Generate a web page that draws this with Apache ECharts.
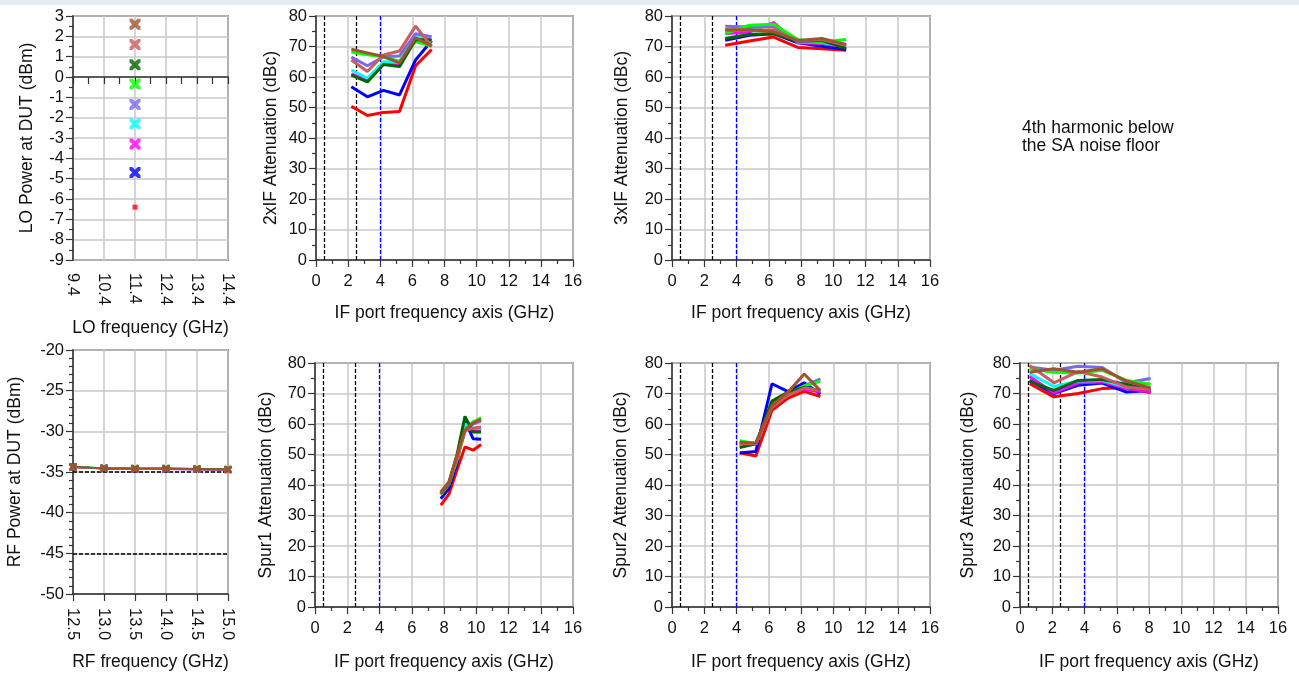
<!DOCTYPE html>
<html><head><meta charset="utf-8">
<script src="https://cdn.jsdelivr.net/npm/echarts@6/dist/echarts.min.js"></script>
<style>
html,body{margin:0;padding:0;background:#fff;}
#c{position:absolute;left:0;top:0;width:1299px;height:673px;}
#band{position:absolute;left:0;top:0;width:1299px;height:5px;background:#e2eef3;}
</style>
</head><body>
<div id="c"></div><div id="band"></div>
<script>
// ---------- data ----------
const colors = ['#ff0000','#0000ff','#ff00ff','#00ffff','#7b68ee','#00ff00','#006400','#cd5c5c','#a0522d'];
const loPower = [-6.4,-4.7,-3.3,-2.3,-1.35,-0.35,0.6,1.6,2.6];
const loFreq = '11.4';
const loTicks = ['9.4','9.9','10.4','10.9','11.4','11.9','12.4','12.9','13.4','13.9','14.4'];

const rfFreq = [12.5,13.0,13.5,14.0,14.5,15.0];
const rfPower = [
  [-34.45,-34.6,-34.65,-34.65,-34.7,-34.75],
  [-34.4,-34.6,-34.6,-34.65,-34.7,-34.7],
  [-34.4,-34.55,-34.6,-34.6,-34.7,-34.7],
  [-34.4,-34.55,-34.6,-34.6,-34.65,-34.7],
  [-34.4,-34.55,-34.6,-34.6,-34.65,-34.7],
  [-34.35,-34.5,-34.55,-34.55,-34.6,-34.65],
  [-34.35,-34.5,-34.55,-34.55,-34.6,-34.65],
  [-34.4,-34.55,-34.6,-34.6,-34.65,-34.7],
  [-34.4,-34.55,-34.6,-34.6,-34.65,-34.7]
];
const rfLimits = [-35,-45];

const if2x = [2.2,3.2,4.2,5.2,6.2,7.2];
const att2x = [
  [50.4,47.4,48.4,48.7,63.7,69.0],
  [56.8,53.5,55.6,54.1,65.6,71.9],
  [61.0,59.0,64.2,63.9,73.7,72.0],
  [62.3,59.6,65.0,65.0,73.8,71.6],
  [66.5,63.7,66.6,66.9,74.2,73.2],
  [68.2,67.3,66.6,65.2,71.6,70.1],
  [60.6,58.4,64.1,63.4,72.3,72.1],
  [65.6,61.8,67.2,68.5,76.7,70.0],
  [69.1,67.9,66.7,64.6,72.8,70.2]
];

const if3x = [3.3,4.8,6.3,7.8,9.3,10.8];
const att3x = [
  [70.4,71.8,73.1,69.7,69.3,68.8],
  [72.0,73.7,74.2,71.2,70.1,69.0],
  [74.2,74.8,77.8,71.2,71.0,69.9],
  [75.3,75.9,77.0,71.5,71.2,70.1],
  [76.6,76.4,76.6,71.5,71.5,70.2],
  [74.2,77.0,77.3,72.3,71.5,72.3],
  [72.6,74.0,74.2,71.8,72.0,69.3],
  [75.3,75.3,75.5,71.8,72.3,70.4],
  [75.5,75.5,74.8,72.0,72.6,70.7]
];

const spur1F = [7.8,8.3,8.8,9.3,9.8,10.3];
const spur1 = [
  [33.4,36.9,44.8,52.5,51.4,53.3],
  [35.5,38.8,47.0,61.2,55.2,55.0],
  [36.9,40.2,49.2,58.8,58.3,57.9],
  [37.2,40.4,49.0,60.0,58.6,58.6],
  [37.4,40.7,48.6,57.4,60.0,61.0],
  [36.9,40.2,48.1,58.0,60.7,62.0],
  [37.2,40.4,49.7,62.5,57.4,57.4],
  [37.4,40.7,48.6,57.9,58.6,59.0],
  [37.7,41.0,49.7,58.0,60.3,61.5]
];

const spur2F = [4.2,5.2,6.2,7.2,8.2,9.2];
const spur2 = [
  [50.6,49.5,64.5,68.5,70.7,69.0],
  [50.5,51.0,73.2,70.6,73.5,69.8],
  [52.8,53.4,65.8,69.8,71.5,70.5],
  [53.0,53.5,66.0,70.0,72.0,71.0],
  [53.8,53.6,66.0,70.0,72.5,74.8],
  [54.5,53.5,66.5,70.0,72.5,74.0],
  [52.3,53.5,67.5,70.5,72.0,71.0],
  [53.5,53.5,65.5,69.5,71.8,71.0],
  [54.0,53.8,66.0,70.5,76.4,71.0]
];

const spur3F = [0.6,2.1,3.6,5.1,6.6,8.1];
const spur3 = [
  [73.2,68.9,70.0,71.6,71.9,70.2],
  [74.3,70.0,72.7,73.4,70.5,71.0],
  [75.6,70.2,73.5,73.8,71.6,70.5],
  [76.5,72.3,74.1,74.3,72.1,71.6],
  [78.7,77.6,78.9,78.5,73.5,74.9],
  [78.1,77.0,76.7,77.6,74.3,73.0],
  [74.0,71.0,74.3,74.6,73.0,71.3],
  [79.2,73.5,77.2,75.4,72.1,71.3],
  [77.0,78.1,77.0,78.1,74.1,71.8]
];

const refLines = [0.5, 2.5, 4.0];
const refColors = ['#000000','#000000','#0000ff'];
const harmonicNote = '4th harmonic below\nthe SA noise floor';

// ---------- styling helpers ----------
const FF = '"Liberation Sans", Arial, sans-serif';
const TXT = '#111';
const AX = '#333';
const GRIDC = '#c9c9c9';
const labelStyle = {fontSize:16.5, color:TXT, fontFamily:FF};
const nameStyle = {fontSize:17.5, color:TXT, fontFamily:FF};

function grid(l,t,w,h){return {left:l,top:t,width:w,height:h,show:true,borderColor:'#444',borderWidth:1.5,backgroundColor:'transparent'};}

function valAxis(gi, min, max, interval, minorSplit, name, gap, margin, extra){
  return Object.assign({
    type:'value', gridIndex:gi, min:min, max:max, interval:interval,
    name:name, nameLocation:'middle', nameGap:gap, nameTextStyle:nameStyle,
    axisLine:{show:true,lineStyle:{color:AX,width:1.5}},
    axisTick:{show:true,inside:false,length:7,lineStyle:{color:AX,width:1.2}},
    minorTick:{show:minorSplit>0,splitNumber:minorSplit||1,length:4,lineStyle:{color:AX,width:1.2}},
    axisLabel:Object.assign({margin:margin},labelStyle),
    splitLine:{show:true,lineStyle:{color:GRIDC,width:1.5}},
    minorSplitLine:{show:false}
  }, extra||{});
}

const grids = [
  grid(73,16,155,244),    // 0 LO
  grid(316,16,257,244),   // 1 2xIF
  grid(672,16,258,244),   // 2 3xIF
  grid(73,350,155,244),   // 3 RF
  grid(315,363,258,244),  // 4 spur1
  grid(672,363,258,244),  // 5 spur2
  grid(1020,363,258,244)  // 6 spur3
];

const xAxes = [
  {type:'category', gridIndex:0, data:loTicks, boundaryGap:false,
   name:'LO frequency (GHz)', nameLocation:'middle', nameGap:59, nameTextStyle:nameStyle,
   axisLine:{show:true,lineStyle:{color:AX,width:1.5}},
   axisTick:{show:true,interval:0,length:7,lineStyle:{color:AX,width:1.2}},
   axisLabel:Object.assign({interval:1,rotate:-90,margin:13},labelStyle),
   splitLine:{show:true,interval:1,lineStyle:{color:GRIDC,width:1.5}}},
  valAxis(1,0,16,2,2,'IF port frequency axis (GHz)',44,13),
  valAxis(2,0,16,2,2,'IF port frequency axis (GHz)',44,13),
  valAxis(3,12.5,15,0.5,0,'RF frequency (GHz)',59,14,{axisLabel:Object.assign({margin:14,rotate:-90,formatter:v=>v.toFixed(1)},labelStyle)}),
  valAxis(4,0,16,2,2,'IF port frequency axis (GHz)',46,13),
  valAxis(5,0,16,2,2,'IF port frequency axis (GHz)',46,13),
  valAxis(6,0,16,2,2,'IF port frequency axis (GHz)',46,13)
];
const yAxes = [
  valAxis(0,-9,3,1,2,'LO Power at DUT (dBm)',37,9),
  valAxis(1,0,80,10,2,'2xIF Attenuation (dBc)',36,9),
  valAxis(2,0,80,10,2,'3xIF Attenuation (dBc)',41,9),
  valAxis(3,-50,-20,5,5,'RF Power at DUT (dBm)',49,9),
  valAxis(4,0,80,10,2,'Spur1 Attenuation (dBc)',40,9),
  valAxis(5,0,80,10,2,'Spur2 Attenuation (dBc)',42,9),
  valAxis(6,0,80,10,2,'Spur3 Attenuation (dBc)',43,9)
];

const XMARK = 'path://M0,0 L2.6,0 L5,2.4 L7.4,0 L10,0 L10,2.6 L7.6,5 L10,7.4 L10,10 L7.4,10 L5,7.6 L2.6,10 L0,10 L0,7.4 L2.4,5 L0,2.6 Z';

const series = [];
// LO panel
loPower.forEach((p,i)=>{
  series.push({type:'scatter', xAxisIndex:0, yAxisIndex:0, data:[[loFreq,p]],
    symbol: i===0 ? 'rect' : XMARK, symbolSize: i===0 ? 5 : 11,
    itemStyle:{color:colors[i]}, z:5});
});
// RF panel
rfPower.forEach((arr,i)=>{
  series.push({type:'line', xAxisIndex:3, yAxisIndex:3, data:rfFreq.map((f,k)=>[f,arr[k]]),
    symbol:XMARK, symbolSize:7, showSymbol:true, itemStyle:{color:colors[i]},
    lineStyle:{color:colors[i],width:1.5}, z:5});
});
series.push({type:'line', xAxisIndex:3, yAxisIndex:3, data:[], z:8,
  markLine:{silent:true, symbol:'none', label:{show:false}, animation:false,
    lineStyle:{color:'#000',type:[4,2],width:1.6},
    data: rfLimits.map(v=>({yAxis:v}))}});

function panel(ai, xs, rows){
  rows.forEach((arr,i)=>{
    series.push({type:'line', xAxisIndex:ai, yAxisIndex:ai, data:xs.map((f,k)=>[f,arr[k]]),
      showSymbol:false, symbol:'none', lineStyle:{color:colors[i],width:3}, z:5});
  });
  series.push({type:'line', xAxisIndex:ai, yAxisIndex:ai, data:[], z:8,
    markLine:{silent:true, symbol:'none', label:{show:false}, animation:false,
      lineStyle:{type:[4,2],width:1.3},
      data: refLines.map((v,k)=>({xAxis:v, lineStyle:{color:refColors[k],type:[4,2],width:1.3}}))}});
}
panel(1, if2x, att2x);
panel(2, if3x, att3x);
panel(4, spur1F, spur1);
panel(5, spur2F, spur2);
panel(6, spur3F, spur3);

const chart = echarts.init(document.getElementById('c'), null, {renderer:'canvas'});
chart.setOption({
  animation:false,
  backgroundColor:'#fff',
  grid:grids, xAxis:xAxes, yAxis:yAxes, series:series,
  graphic:[{type:'text', left:1022, top:119, style:{text:harmonicNote, font:'17.5px '+FF, fill:TXT, lineHeight:18}}]
});
</script>
</body></html>
